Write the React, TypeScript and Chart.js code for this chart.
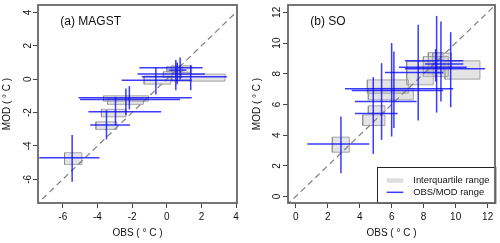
import React, { useEffect, useRef } from "react";
import { Chart, registerables } from "chart.js";

Chart.register(...registerables);

// ---------- Panel (a) MAGST ----------
const magstTitle = "(a) MAGST";
const magstXRange = [-7.43, 4.05];
const magstYRange = [-7.42, 4.44];
const magstTicks = [-6, -4, -2, 0, 2, 4];
const magstObsQ1 = [-5.9, -4.09, -3.77, -3.65, -3.42, -1.31, -0.2, 0.0, 0.29, 0.29];
const magstObsQ3 = [-4.9, -2.88, -2.35, -1.06, -1.35, 0.23, 0.86, 0.92, 3.36, 1.44];
const magstModQ1 = [-5.11, -3.01, -2.26, -1.32, -1.51, -0.3, 0.1, 0.44, -0.12, 0.4];
const magstModQ3 = [-4.41, -2.56, -1.81, -1.0, -1.16, 0.18, 0.44, 0.74, 0.3, 0.8];
const magstObsMin = [-7.36, -4.42, -4.52, -5.09, -5.0, -2.6, -1.69, 0.1, -1.44, -1.58];
const magstObsMax = [-3.88, -2.12, -0.33, 1.44, 0.77, 1.44, 2.2, 1.13, 3.46, 2.07];
const magstObsMed = [-5.46, -3.48, -2.96, -2.36, -2.16, -0.63, 0.52, 0.77, 1.38, 0.6];
const magstModMin = [-6.15, -3.61, -2.75, -2.16, -1.81, -0.92, -0.66, -0.02, -0.66, -0.3];
const magstModMax = [-3.35, -1.86, -1.06, -0.56, -0.42, 0.68, 1.14, 1.3, 0.84, 1.0];
const magstModMed = [-4.71, -2.75, -1.96, -1.12, -1.22, -0.06, 0.3, 0.54, 0.14, 0.68];

// ---------- Panel (b) SO ----------
const soTitle = "(b) SO";
const soXRange = [-0.48, 12.46];
const soYRange = [-0.42, 12.48];
const soTicks = [0, 2, 4, 6, 8, 10, 12];
const soObsQ1 = [2.29, 4.19, 4.54, 4.48, 4.54, 6.94, 7.98, 8.56, 9.33, 8.29];
const soObsQ3 = [3.35, 5.58, 5.58, 7.04, 7.35, 8.6, 9.54, 9.75, 11.52, 9.23];
const soModQ1 = [2.89, 4.63, 5.43, 6.73, 6.3, 7.28, 7.82, 8.47, 7.65, 7.99];
const soModQ3 = [3.87, 5.32, 5.91, 7.6, 7.06, 8.8, 9.12, 9.34, 8.84, 9.38];
const soObsMin = [0.73, 3.7, 3.7, 3.08, 3.5, 5.58, 6.46, 6.83, 6.83, 8.08];
const soObsMax = [4.6, 6.37, 7.56, 9.85, 9.22, 9.22, 10.69, 10.48, 11.83, 10.48];
const soObsMed = [2.83, 4.85, 5.37, 6.0, 6.14, 7.66, 8.81, 9.08, 9.69, 8.75];
const soModMin = [1.52, 2.78, 3.69, 3.91, 4.46, 4.95, 5.47, 6.19, 5.82, 7.5];
const soModMax = [5.21, 7.78, 8.69, 10.0, 9.45, 11.19, 11.77, 11.4, 10.71, 9.6];
const soModMed = [3.43, 5.41, 6.19, 7.02, 6.91, 8.08, 8.43, 8.84, 8.32, 8.64];

const legendLabels = ["Interquartile range", "OBS/MOD range"];
const axisTitleX = "OBS ( \u00B0 C )";
const axisTitleY = "MOD ( \u00B0 C )";

const FONT = "'Liberation Sans', Arial, sans-serif";
const BOX_FILL = "rgba(195,195,195,0.45)";
const BOX_BORDER = "rgba(140,140,140,0.75)";
const LINE_COLOR = "rgba(10,10,255,0.8)";

type PanelData = {
  title: string;
  xRange: number[];
  yRange: number[];
  ticks: number[];
  obsQ1: number[]; obsQ3: number[]; modQ1: number[]; modQ3: number[];
  obsMin: number[]; obsMax: number[]; obsMed: number[];
  modMin: number[]; modMax: number[]; modMed: number[];
  legend: boolean;
  rightPad: number;
};

const panels: PanelData[] = [
  {
    title: magstTitle, xRange: magstXRange, yRange: magstYRange, ticks: magstTicks,
    obsQ1: magstObsQ1, obsQ3: magstObsQ3, modQ1: magstModQ1, modQ3: magstModQ3,
    obsMin: magstObsMin, obsMax: magstObsMax, obsMed: magstObsMed,
    modMin: magstModMin, modMax: magstModMax, modMed: magstModMed,
    legend: false, rightPad: 13,
  },
  {
    title: soTitle, xRange: soXRange, yRange: soYRange, ticks: soTicks,
    obsQ1: soObsQ1, obsQ3: soObsQ3, modQ1: soModQ1, modQ3: soModQ3,
    obsMin: soObsMin, obsMax: soObsMax, obsMed: soObsMed,
    modMin: soModMin, modMax: soModMax, modMed: soModMed,
    legend: true, rightPad: 5,
  },
];

function buildDatasets(p: PanelData) {
  const ds: any[] = [];
  const base = { showLine: true, pointRadius: 0, pointHoverRadius: 0, tension: 0 };
  p.obsQ1.forEach((_, i) => {
    ds.push({
      ...base,
      order: 3,
      data: [
        { x: p.obsQ1[i], y: p.modQ1[i] },
        { x: p.obsQ3[i], y: p.modQ1[i] },
        { x: p.obsQ3[i], y: p.modQ3[i] },
        { x: p.obsQ1[i], y: p.modQ3[i] },
        { x: p.obsQ1[i], y: p.modQ1[i] },
      ],
      fill: "shape",
      backgroundColor: BOX_FILL,
      borderColor: BOX_BORDER,
      borderWidth: 1,
    });
  });
  const lo = Math.min(p.xRange[0], p.yRange[0]) - 1;
  const hi = Math.max(p.xRange[1], p.yRange[1]) + 1;
  ds.push({
    ...base,
    order: 2,
    data: [{ x: lo, y: lo }, { x: hi, y: hi }],
    borderColor: "#7f7f7f",
    borderWidth: 1.2,
    borderDash: [6, 4],
    fill: false,
  });
  p.obsQ1.forEach((_, i) => {
    ds.push({
      ...base,
      order: 1,
      data: [{ x: p.obsMin[i], y: p.modMed[i] }, { x: p.obsMax[i], y: p.modMed[i] }],
      borderColor: LINE_COLOR,
      borderWidth: 1.5,
      fill: false,
    });
    ds.push({
      ...base,
      order: 1,
      data: [{ x: p.obsMed[i], y: p.modMin[i] }, { x: p.obsMed[i], y: p.modMax[i] }],
      borderColor: LINE_COLOR,
      borderWidth: 1.5,
      fill: false,
    });
  });
  return ds;
}

const framePlugin = {
  id: "frame",
  afterDatasetsDraw(chart: any, _args: any, opts: any) {
    const { ctx, chartArea: a } = chart;
    ctx.save();
    if (opts.legend) {
      const w = 118.3;
      const h = 35.7;
      const lx = a.right - w;
      const ly = a.bottom - h;
      ctx.fillStyle = "#fff";
      ctx.fillRect(lx, ly, w, h);
      ctx.strokeStyle = "#222";
      ctx.lineWidth = 1;
      ctx.strokeRect(Math.round(lx) + 0.5, Math.round(ly) + 0.5, w, h);
      // swatch 1: box
      ctx.fillStyle = "#dedede";
      ctx.fillRect(lx + 10, ly + 11, 16.6, 4.4);
      // swatch 2: line
      ctx.strokeStyle = LINE_COLOR;
      ctx.lineWidth = 1.5;
      ctx.beginPath();
      ctx.moveTo(lx + 10, ly + 25);
      ctx.lineTo(lx + 26.6, ly + 25);
      ctx.stroke();
      ctx.fillStyle = "#111";
      ctx.font = `9.4px ${FONT}`;
      ctx.textBaseline = "middle";
      ctx.textAlign = "left";
      ctx.fillText(legendLabels[0], lx + 36.6, ly + 13.4);
      ctx.fillText(legendLabels[1], lx + 36.6, ly + 25);
    }
    ctx.strokeStyle = "#666";
    ctx.lineWidth = 1.8;
    ctx.strokeRect(a.left, a.top, a.right - a.left, a.bottom - a.top);
    ctx.fillStyle = "#111";
    ctx.font = `12px ${FONT}`;
    ctx.textBaseline = "middle";
    ctx.textAlign = "left";
    ctx.fillText(opts.label, a.left + 22.3, a.top + 16.7);
    ctx.restore();
  },
};

function Panel({ p, left }: { p: PanelData; left: number }) {
  const ref = useRef<HTMLCanvasElement>(null);
  useEffect(() => {
    if (!ref.current) return;
    const tickFont = { family: FONT, size: 10 };
    const chart = new Chart(ref.current, {
      type: "scatter",
      data: { datasets: buildDatasets(p) },
      plugins: [framePlugin],
      options: {
        responsive: false,
        animation: false,
        devicePixelRatio: 1,
        layout: { padding: { top: 5, right: p.rightPad, left: 0, bottom: 0 } },
        plugins: {
          legend: { display: false },
          tooltip: { enabled: false },
          frame: { label: p.title, legend: p.legend },
        } as any,
        scales: {
          x: {
            type: "linear",
            min: p.xRange[0],
            max: p.xRange[1],
            afterBuildTicks: (s: any) => { s.ticks = p.ticks.map((v) => ({ value: v })); },
            afterFit: (s: any) => { s.height = 40; s.paddingLeft = 0; s.paddingRight = 0; },
            grid: { drawOnChartArea: false, drawTicks: true, tickLength: 5, color: "#444", tickWidth: 1 },
            border: { display: false },
            ticks: { autoSkip: false, maxRotation: 0, minRotation: 0, padding: 3, color: "#111", font: tickFont },
            title: { display: true, text: axisTitleX, color: "#111", font: tickFont, padding: 4 },
          },
          y: {
            type: "linear",
            min: p.yRange[0],
            max: p.yRange[1],
            afterBuildTicks: (s: any) => { s.ticks = p.ticks.map((v) => ({ value: v })); },
            afterFit: (s: any) => { s.width = 38; s.paddingTop = 0; s.paddingBottom = 0; },
            grid: { drawOnChartArea: false, drawTicks: true, tickLength: 5, color: "#444", tickWidth: 1 },
            border: { display: false },
            ticks: { autoSkip: false, minRotation: 90, maxRotation: 90, crossAlign: "center", padding: 0, color: "#111", font: tickFont },
            title: { display: true, text: axisTitleY, color: "#111", font: tickFont, padding: 1.5 },
          },
        },
      } as any,
    });
    return () => chart.destroy();
  }, []);
  return (
    <canvas
      ref={ref}
      width={250}
      height={243}
      style={{ position: "absolute", left, top: 0, width: 250, height: 243, display: "block" }}
    />
  );
}

export default function App() {
  return (
    <div style={{ position: "absolute", left: 0, top: 0, width: 500, height: 243, background: "#fff" }}>
      <Panel p={panels[0]} left={0} />
      <Panel p={panels[1]} left={250} />
    </div>
  );
}
